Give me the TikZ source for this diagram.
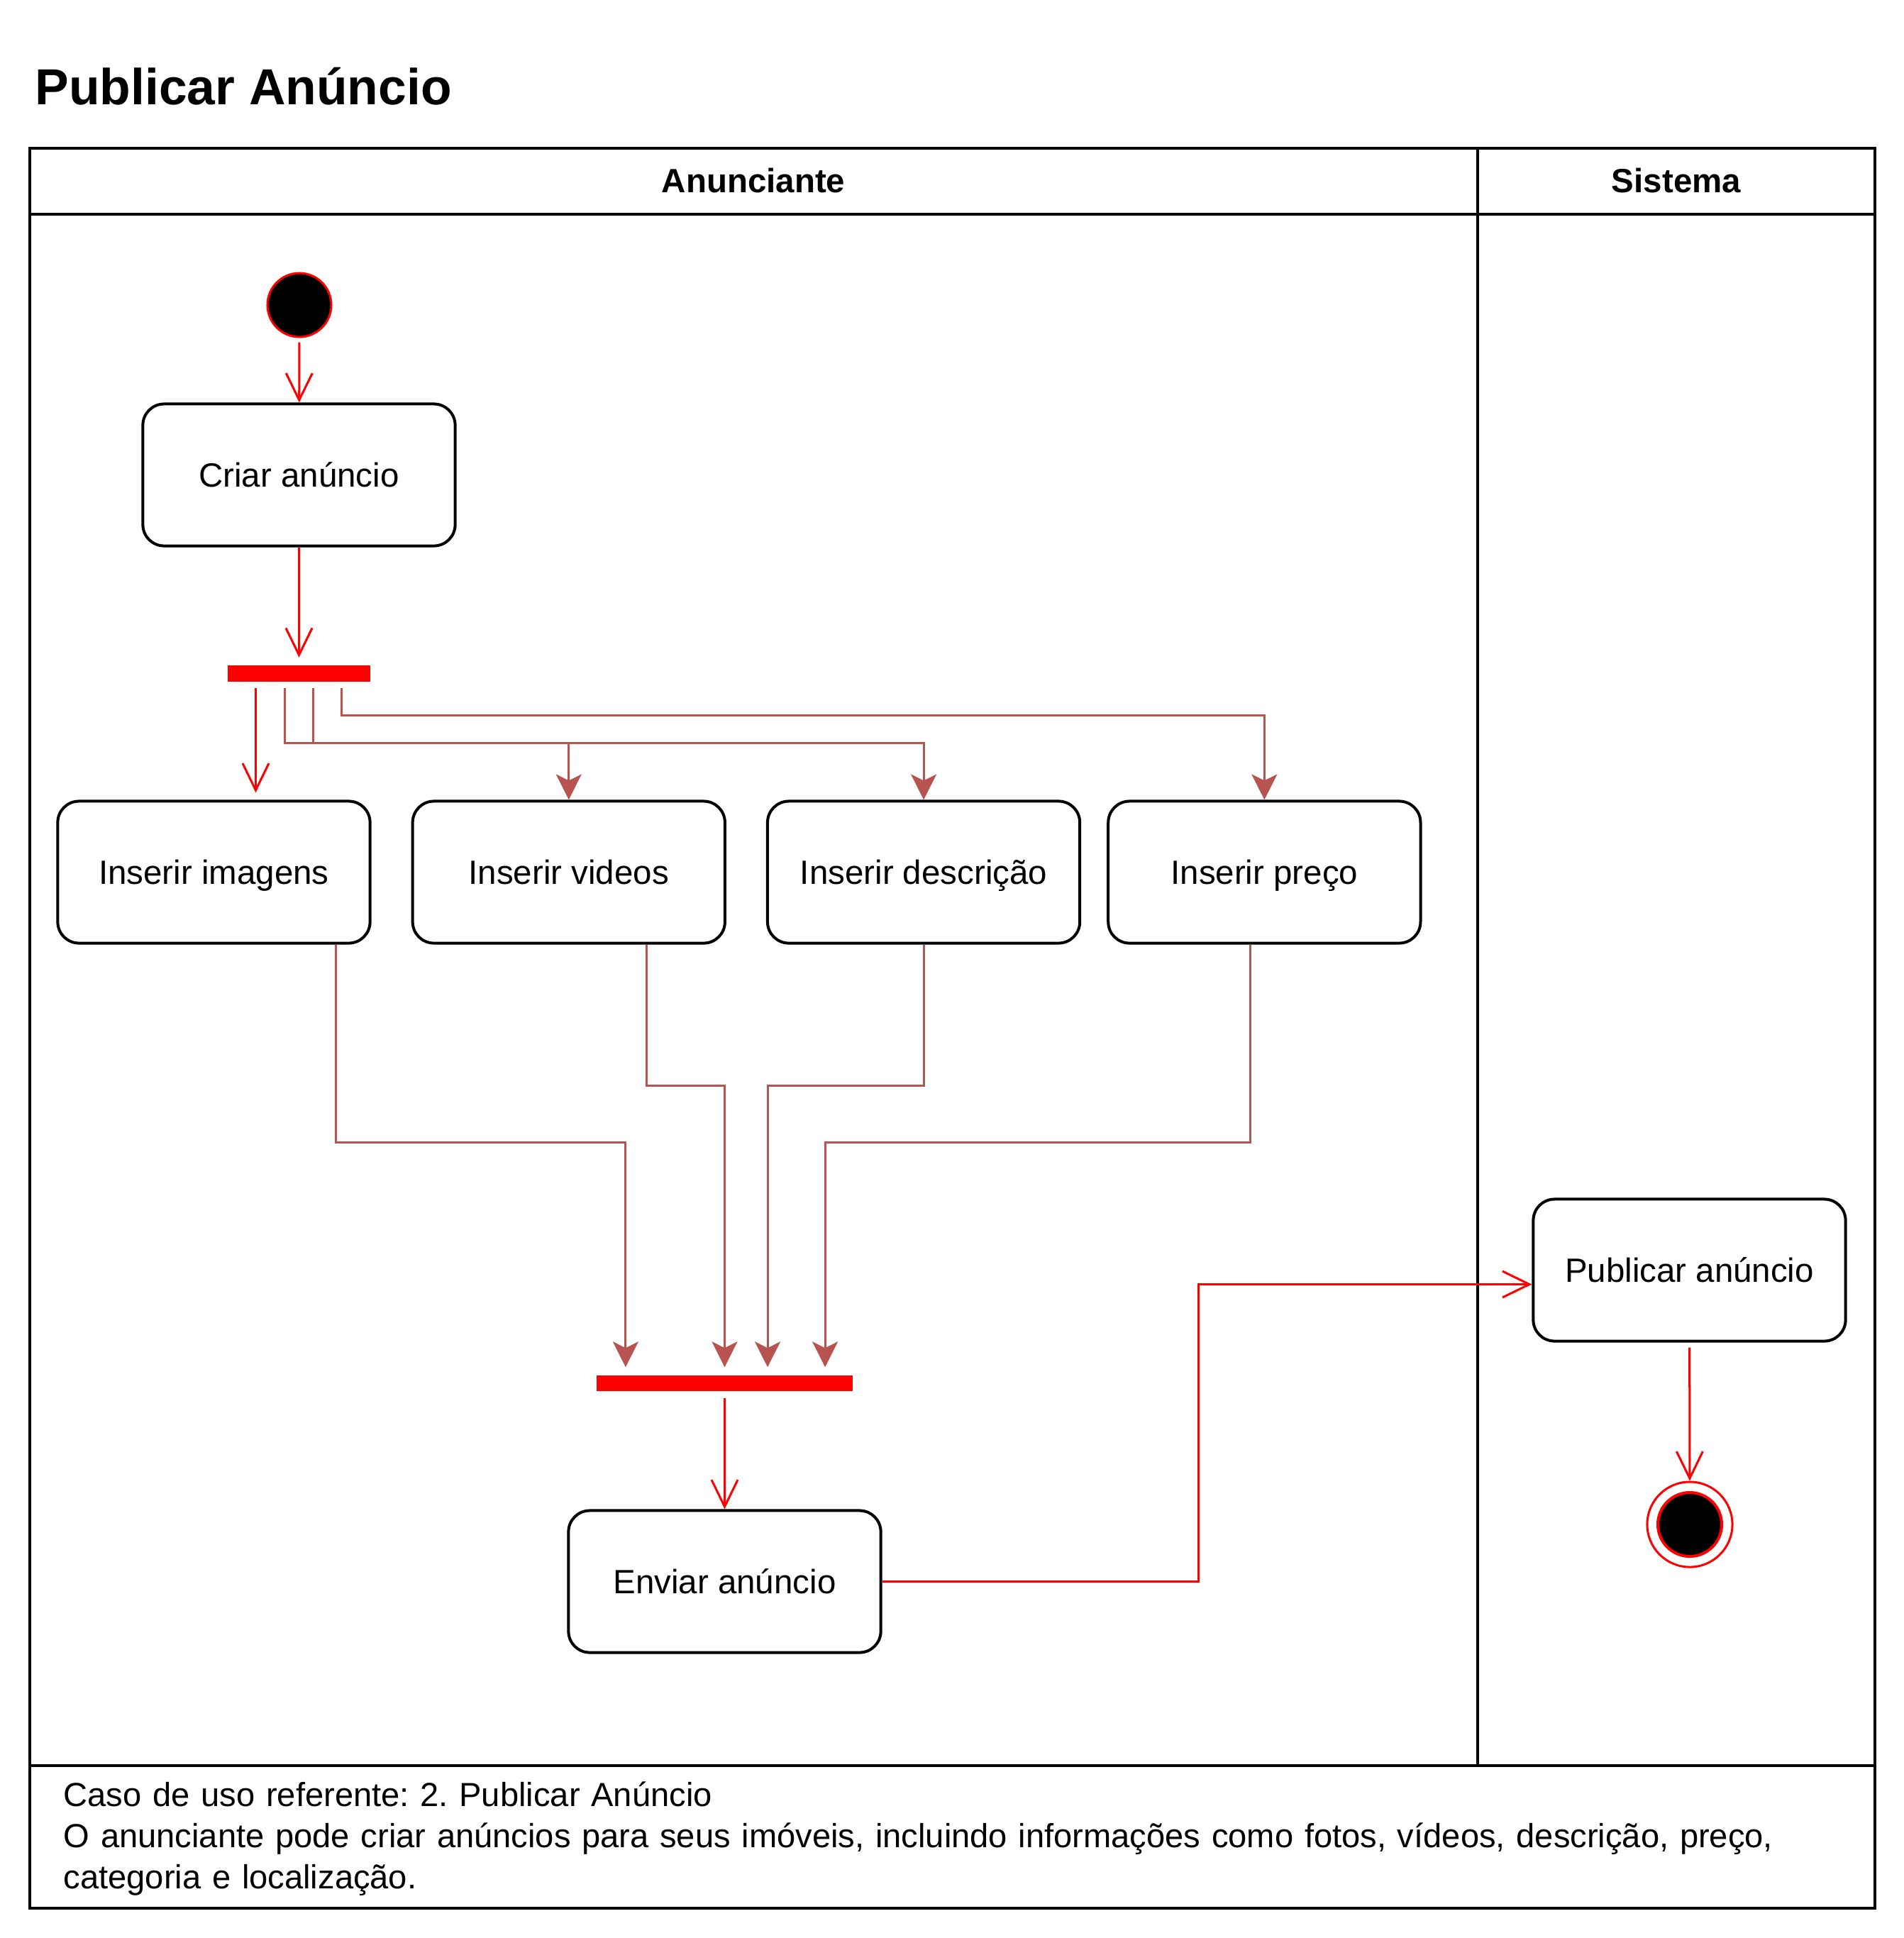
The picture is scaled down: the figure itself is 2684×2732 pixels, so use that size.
\documentclass[tikz,border=0pt]{standalone}
\usepackage{fontspec}
\setmainfont{Liberation Sans}
\usetikzlibrary{positioning,calc,arrows.meta}
\definecolor{ramocor}{HTML}{B85450}
\frenchspacing
\tikzstyle{atividade} = [draw, fill=white, rectangle, rounded corners=0.3cm, line width=0.04cm, minimum width=4.4cm, minimum height=2cm, font=\fontsize{13.5}{16}\selectfont, text height=0.34cm, text depth=0pt]
\tikzstyle{barra} = [fill=red, rectangle, inner sep=0pt]
\tikzstyle{fluxo} = [draw=red, line width=0.03cm, -{Straight Barb[length=0.38cm,width=0.37cm]}]
\tikzstyle{ramo} = [draw=ramocor, line width=0.03cm, -{Stealth[length=0.36cm,width=0.36cm,inset=0.09cm]}]
\tikzstyle{raia} = [line width=0.04cm]

\begin{document}
\begin{tikzpicture}[x=0.01cm, y=-0.01cm, auto, node distance=5cm]
        \useasboundingbox (0,0) rectangle (2684,2732);

        % titulo e raias
        \node [anchor=base west, inner sep=0pt, font=\fontsize{20.3}{24}\selectfont\bfseries] (titulo) at (49,147) {Publicar Anúncio};
        \draw[raia] (42,209) rectangle (2643,2690);
        \draw[raia] (42,302) -- (2643,302);
        \draw[raia] (2083,209) -- (2083,2489);
        \draw[raia] (42,2489) -- (2643,2489);
        \node [anchor=base, font=\fontsize{13.5}{16}\selectfont\bfseries] (raia1) at (1062,271) {Anunciante};
        \node [anchor=base, font=\fontsize{13.5}{16}\selectfont\bfseries] (raia2) at (2363,271) {Sistema};

        % atividades
        \node [circle, fill=black, draw=red, line width=0.03cm, minimum size=0.9cm, inner sep=0pt] (ini) at (422,430) {};
        \node [atividade] (criar) at (421.5,669.5) {Criar anúncio};
        \node [barra, minimum width=2cm, minimum height=0.23cm] (fork1) at (421.5,949) {};

        \node [atividade] (imgs) at (301.5,1229.5) {Inserir imagens};
        \node [atividade, right of=imgs] (videos) {Inserir videos};
        \node [atividade, right of=videos] (desc) {Inserir descrição};
        \node [atividade, right of=desc, node distance=4.8cm] (preco) {Inserir preço};

        \node [barra, minimum width=3.6cm, minimum height=0.22cm] (join) at (1021.5,1950) {};
        \node [atividade] (enviar) at (1021.5,2229.5) {Enviar anúncio};
        \node [atividade] (pub) at (2381.5,1790.5) {Publicar anúncio};

        \node [circle, draw=red, fill=white, line width=0.03cm, minimum size=1.2cm, inner sep=0pt] (fim) at (2382,2149) {};
        \node [circle, fill=black, draw=red, line width=0.04cm, minimum size=0.9cm, inner sep=0pt] (fimin) at (fim) {};

        \node [anchor=base west, inner sep=0pt, text width=25.5cm, align=left, font=\fontsize{13.4}{16.5}\selectfont] (caso) at (89,2546) {Caso de uso referente: 2. Publicar Anúncio\\O anunciante pode criar anúncios para seus imóveis, incluindo informações como fotos, vídeos, descrição, preço,\\categoria e localização.};

        % saidas do fork
        \coordinate (s1) at ([xshift=-0.61cm]fork1.south);
        \coordinate (s2) at ([xshift=-0.2cm]fork1.south);
        \coordinate (s3) at ([xshift=0.2cm]fork1.south);
        \coordinate (s4) at ([xshift=0.6cm]fork1.south);

        % entradas do join
        \coordinate (e1) at ([xshift=-1.395cm]join.north);
        \coordinate (e2) at (join.north);
        \coordinate (e3) at ([xshift=0.605cm]join.north);
        \coordinate (e4) at ([xshift=1.415cm]join.north);
        \coordinate (nivA) at (0,1530);
        \coordinate (nivB) at (0,1610);

        \draw[fluxo, shorten <=0.06cm] (ini) -- (criar);
        \draw[fluxo, shorten >=0.1cm] (criar) -- (fork1);

        \draw[fluxo, shorten <=0.09cm, shorten >=0.1cm] (s1) -- (s1 |- imgs.north);
        \draw[ramo, shorten <=0.09cm] (s2) |- ([yshift=0.8cm]videos.north) -- (videos.north);
        \draw[ramo, shorten <=0.09cm] (s3) |- ([yshift=0.8cm]desc.north) -- (desc.north);
        \draw[ramo, shorten <=0.09cm] (s4) |- ([yshift=1.19cm]preco.north) -- (preco.north);

        \draw[ramo, shorten >=0.11cm] ([xshift=1.72cm]imgs.south) |- (e1 |- nivB) -- (e1);
        \draw[ramo, shorten >=0.11cm] ([xshift=1.1cm]videos.south) |- (e2 |- nivA) -- (e2);
        \draw[ramo, shorten >=0.11cm] (desc.south) |- (e3 |- nivA) -- (e3);
        \draw[ramo, shorten >=0.11cm] ([xshift=-0.2cm]preco.south) |- (e4 |- nivB) -- (e4);

        \draw[fluxo, shorten <=0.09cm] (join) -- (enviar);

        \coordinate (alvo) at ([yshift=-0.2cm]pub.west);
        \coordinate (desvio) at (1689,2229.5);
        \draw[fluxo] (enviar.east) -- (desvio) |- (alvo);
        \draw[fluxo, shorten <=0.07cm] (pub) -- (fim);
\end{tikzpicture}
\end{document}
